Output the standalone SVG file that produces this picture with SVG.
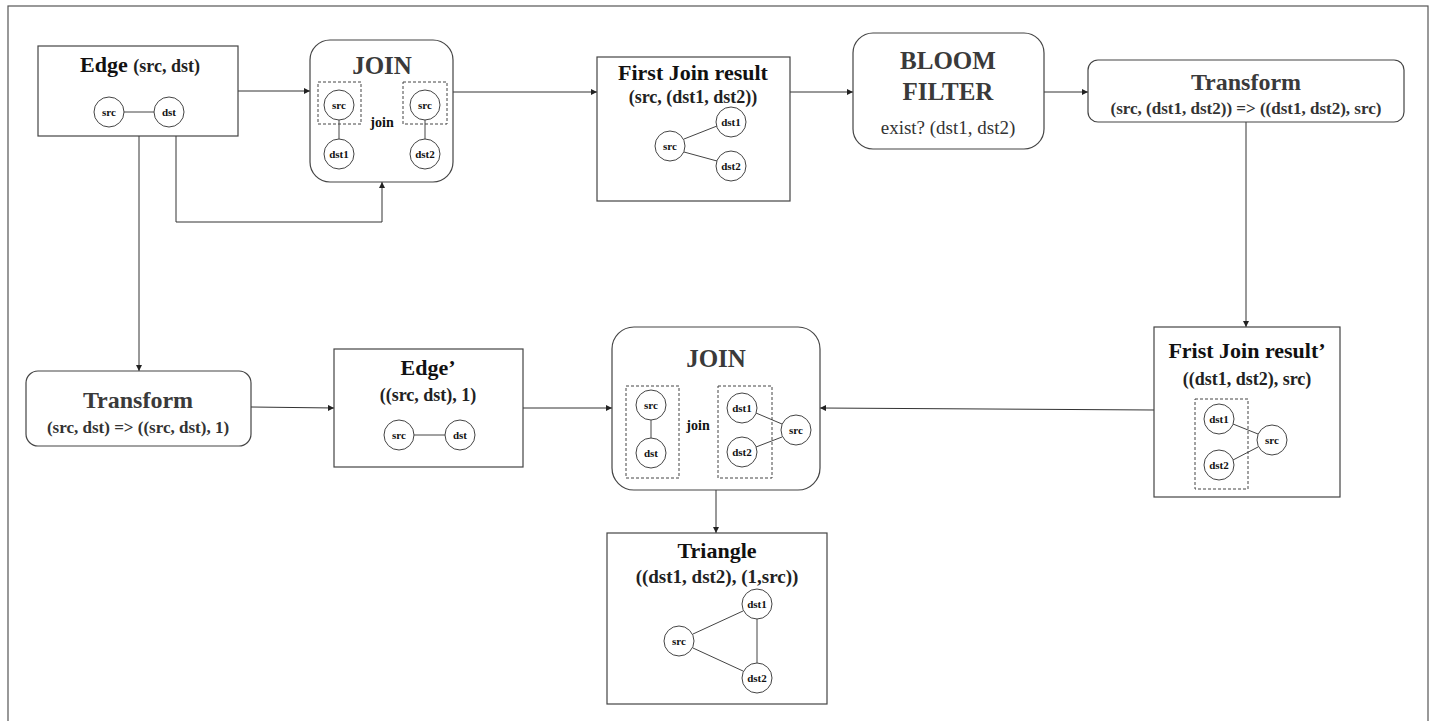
<svg xmlns="http://www.w3.org/2000/svg" width="1432" height="721" viewBox="0 0 1432 721">
<defs>
<marker id="arr" viewBox="0 0 10 10" refX="10" refY="5" markerWidth="6" markerHeight="6" orient="auto" markerUnits="userSpaceOnUse">
<path d="M0,0 L10,5 L0,10 z" fill="#222"/>
</marker>
</defs>
<style>
.box{fill:#fff;stroke:#444;stroke-width:1.2}
.dash{fill:none;stroke:#444;stroke-width:1;stroke-dasharray:3,2}
.c{fill:#fff;stroke:#444;stroke-width:1}
.ln{stroke:#444;stroke-width:1;fill:none}
.conn{stroke:#333;stroke-width:1;fill:none;marker-end:url(#arr)}
text{font-family:"Liberation Serif","Times New Roman",serif;font-weight:bold;text-anchor:middle}
.t1{font-size:22px;fill:#111}
.t2{font-size:18px;fill:#222}
.big{font-size:25px;fill:#3a3a3a}
.tr{font-size:24px;fill:#3a3a3a}
.sub{font-size:17px;fill:#333}
.cl{font-size:11px;fill:#111}
.jn{font-size:14px;fill:#111}
</style>
<rect x="8" y="6" width="1420" height="730" fill="none" stroke="#555" stroke-width="1.2"/>

<g id="connectors">
<path class="conn" d="M238,91 H310"/>
<path class="conn" d="M176,136 V222 H382 V182"/>
<path class="conn" d="M139,136 V371"/>
<path class="conn" d="M453,92 H597"/>
<path class="conn" d="M790,92 H853"/>
<path class="conn" d="M1044,92 H1088"/>
<path class="conn" d="M1246,122 V327"/>
<path class="conn" d="M1154,410 L820,408"/>
<path class="conn" d="M251,407 L334,408"/>
<path class="conn" d="M523,408 H612"/>
<path class="conn" d="M716,490 V533"/>
</g>

<g id="edge">
<rect class="box" x="38" y="46" width="200" height="90"/>
<text x="140" y="72"><tspan class="t1">Edge </tspan><tspan class="t2">(src, dst)</tspan></text>
<line class="ln" x1="124" y1="112" x2="154" y2="112"/>
<circle class="c" cx="109" cy="112" r="15"/>
<circle class="c" cx="169" cy="112" r="15"/>
<text class="cl" x="109" y="116">src</text>
<text class="cl" x="169" y="116">dst</text>
</g>

<g id="join1">
<rect class="box" x="310" y="40" width="143" height="142" rx="20"/>
<text class="big" x="382" y="74">JOIN</text>
<rect class="dash" x="318" y="82" width="43" height="42"/>
<rect class="dash" x="403" y="82" width="44" height="42"/>
<line class="ln" x1="339" y1="120" x2="339" y2="139"/>
<line class="ln" x1="425" y1="120" x2="425" y2="139"/>
<circle class="c" cx="339" cy="105" r="15"/>
<circle class="c" cx="339" cy="154" r="15"/>
<circle class="c" cx="425" cy="105" r="15"/>
<circle class="c" cx="425" cy="154" r="15"/>
<text class="cl" x="339" y="109">src</text>
<text class="cl" x="339" y="158">dst1</text>
<text class="cl" x="425" y="109">src</text>
<text class="cl" x="425" y="158">dst2</text>
<text class="jn" x="382" y="127">join</text>
</g>

<g id="first-join-result">
<rect class="box" x="597" y="57" width="193" height="144"/>
<text class="t1" x="693" y="80">First Join result</text>
<text class="t2" x="693" y="103">(src, (dst1, dst2))</text>
<line class="ln" x1="684" y1="139" x2="717" y2="126"/>
<line class="ln" x1="684" y1="152" x2="717" y2="161"/>
<circle class="c" cx="670" cy="146" r="15"/>
<circle class="c" cx="731" cy="122" r="15"/>
<circle class="c" cx="731" cy="166" r="15"/>
<text class="cl" x="670" y="150">src</text>
<text class="cl" x="731" y="126">dst1</text>
<text class="cl" x="731" y="170">dst2</text>
</g>

<g id="bloom-filter">
<rect class="box" x="853" y="33" width="191" height="116" rx="20"/>
<text class="big" x="948" y="69">BLOOM</text>
<text class="big" x="948" y="100">FILTER</text>
<text x="948" y="134" style="font-size:19px;font-weight:normal;fill:#333">exist? (dst1, dst2)</text>
</g>

<g id="transform-top">
<rect class="box" x="1088" y="60" width="316" height="62" rx="10"/>
<text class="tr" x="1246" y="90">Transform</text>
<text class="sub" x="1246" y="114">(src, (dst1, dst2)) =&gt; ((dst1, dst2), src)</text>
</g>

<g id="first-join-result-prime">
<rect class="box" x="1154" y="327" width="186" height="170"/>
<text class="t1" x="1247" y="358">Frist Join result’</text>
<text class="t2" x="1247" y="385">((dst1, dst2), src)</text>
<rect class="dash" x="1195" y="399" width="53" height="90"/>
<line class="ln" x1="1233" y1="424" x2="1258" y2="434"/>
<line class="ln" x1="1233" y1="460" x2="1258" y2="447"/>
<circle class="c" cx="1219" cy="419" r="15"/>
<circle class="c" cx="1219" cy="465" r="15"/>
<circle class="c" cx="1272" cy="440" r="15"/>
<text class="cl" x="1219" y="423">dst1</text>
<text class="cl" x="1219" y="469">dst2</text>
<text class="cl" x="1272" y="444">src</text>
</g>

<g id="transform-bottom">
<rect class="box" x="26" y="371" width="225" height="75" rx="12"/>
<text class="tr" x="138" y="408">Transform</text>
<text class="sub" x="138" y="433">(src, dst) =&gt; ((src, dst), 1)</text>
</g>

<g id="edge-prime">
<rect class="box" x="334" y="349" width="189" height="118"/>
<text class="t1" x="428" y="375">Edge’</text>
<text class="t2" x="428" y="401">((src, dst), 1)</text>
<line class="ln" x1="414" y1="435" x2="445" y2="435"/>
<circle class="c" cx="399" cy="435" r="15"/>
<circle class="c" cx="460" cy="435" r="15"/>
<text class="cl" x="399" y="439">src</text>
<text class="cl" x="460" y="439">dst</text>
</g>

<g id="join2">
<rect class="box" x="612" y="327" width="208" height="163" rx="22"/>
<text class="big" x="716" y="367">JOIN</text>
<rect class="dash" x="626" y="386" width="53" height="92"/>
<rect class="dash" x="718" y="386" width="54" height="92"/>
<line class="ln" x1="651" y1="420" x2="651" y2="438"/>
<circle class="c" cx="651" cy="405" r="15"/>
<circle class="c" cx="651" cy="453" r="15"/>
<text class="cl" x="651" y="409">src</text>
<text class="cl" x="651" y="457">dst</text>
<text class="jn" x="698" y="430">join</text>
<line class="ln" x1="756" y1="413" x2="782" y2="424"/>
<line class="ln" x1="756" y1="447" x2="782" y2="437"/>
<circle class="c" cx="742" cy="408" r="15"/>
<circle class="c" cx="742" cy="452" r="15"/>
<circle class="c" cx="796" cy="430" r="15"/>
<text class="cl" x="742" y="412">dst1</text>
<text class="cl" x="742" y="456">dst2</text>
<text class="cl" x="796" y="434">src</text>
</g>

<g id="triangle">
<rect class="box" x="607" y="533" width="220" height="171"/>
<text class="t1" x="717" y="558">Triangle</text>
<text class="t2" x="717" y="583" style="font-size:19px">((dst1, dst2), (1,src))</text>
<line class="ln" x1="693" y1="634" x2="743" y2="611"/>
<line class="ln" x1="693" y1="648" x2="743" y2="671"/>
<line class="ln" x1="757" y1="619" x2="757" y2="663"/>
<circle class="c" cx="679" cy="641" r="15"/>
<circle class="c" cx="757" cy="604" r="15"/>
<circle class="c" cx="757" cy="678" r="15"/>
<text class="cl" x="679" y="645">src</text>
<text class="cl" x="757" y="608">dst1</text>
<text class="cl" x="757" y="682">dst2</text>
</g>
</svg>
